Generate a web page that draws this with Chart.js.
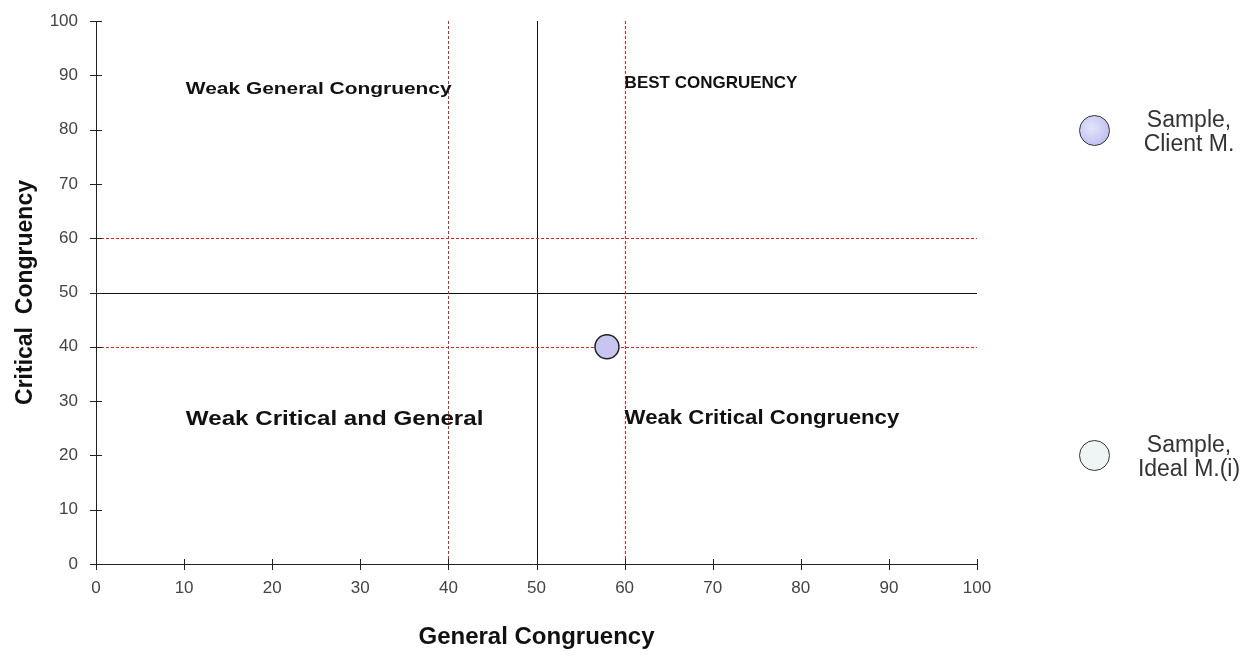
<!DOCTYPE html>
<html>
<head>
<meta charset="utf-8">
<script src="https://cdn.jsdelivr.net/npm/chart.js@4/dist/chart.umd.min.js"></script>
<style>
  body { margin: 0; background: #fff; font-family: Arial, "Liberation Sans", sans-serif; }
  #wrap { position: relative; width: 1256px; height: 656px; }
  .leg { position: absolute; display: flex; align-items: center; }
  .leg .dot { width: 31px; height: 31px; border-radius: 50%; box-sizing: border-box; border: 1.5px solid #333; }
  .leg .txt { position: absolute; left: 110px; width: 0; display: flex; justify-content: center; }
  .leg .txt span { white-space: nowrap; font-size: 23px; color: #333; text-align: center; line-height: 24px; }
</style>
</head>
<body>
<div id="wrap">
  <canvas id="chart" width="1256" height="656"></canvas>
  <div class="leg" style="left:1079px; top:115px;">
    <div class="dot" style="background: radial-gradient(circle at 40% 40%, #e4e4fb, #b4b4f0);"></div>
    <div class="txt"><span>Sample,<br>Client M.</span></div>
  </div>
  <div class="leg" style="left:1079px; top:440px;">
    <div class="dot" style="background:#eef5f4;"></div>
    <div class="txt"><span>Sample,<br>Ideal M.(i)</span></div>
  </div>
</div>
<script>
// data
const clientPoints = [{ x: 58, y: 40 }];
const idealPoints = [];
const tickValues = [0, 10, 20, 30, 40, 50, 60, 70, 80, 90, 100];

// reference lines
const redLinesX = [40, 60];
const redLinesY = [40, 60];
const blackLinesX = [50];
const blackLinesY = [50];

// quadrant labels
const quadrantText = ["Weak General Congruency", "BEST CONGRUENCY", "Weak Critical and General", "Weak Critical Congruency"];
const quadrantX = [10.2, 60, 10.2, 60];
const quadrantY = [87.5, 88.6, 26.6, 26.8];
// font size and horizontal stretch of each label
const quadrantSize = [17, 17, 21, 20];
const quadrantStretch = [1.23, 1.0, 1.15, 1.11];

const linesPlugin = {
  id: "lines",
  beforeDatasetsDraw(chart) {
    const ctx = chart.ctx;
    const xs = chart.scales.x, ys = chart.scales.y;
    const a = chart.chartArea;
    ctx.save();
    ctx.lineWidth = 1;
    ctx.strokeStyle = "#111";
    blackLinesX.forEach(v => {
      const px = Math.round(xs.getPixelForValue(v)) + 0.5;
      ctx.beginPath(); ctx.moveTo(px, a.top); ctx.lineTo(px, a.bottom); ctx.stroke();
    });
    blackLinesY.forEach(v => {
      const py = Math.round(ys.getPixelForValue(v)) + 0.5;
      ctx.beginPath(); ctx.moveTo(a.left, py); ctx.lineTo(a.right, py); ctx.stroke();
    });
    ctx.strokeStyle = "#e02424";
    ctx.setLineDash([3, 2]);
    redLinesX.forEach(v => {
      const px = Math.round(xs.getPixelForValue(v)) + 0.5;
      ctx.beginPath(); ctx.moveTo(px, a.top); ctx.lineTo(px, a.bottom); ctx.stroke();
    });
    redLinesY.forEach(v => {
      const py = Math.round(ys.getPixelForValue(v)) + 0.5;
      ctx.beginPath(); ctx.moveTo(a.left, py); ctx.lineTo(a.right, py); ctx.stroke();
    });
    ctx.setLineDash([]);

    // axis ticks crossing the axis lines
    ctx.strokeStyle = "#222";
    tickValues.forEach(v => {
      const px = Math.round(xs.getPixelForValue(v)) + 0.5;
      ctx.beginPath(); ctx.moveTo(px, a.bottom - 5); ctx.lineTo(px, a.bottom + 6); ctx.stroke();
      const py = Math.round(ys.getPixelForValue(v)) + 0.5;
      ctx.beginPath(); ctx.moveTo(a.left - 6, py); ctx.lineTo(a.left + 6, py); ctx.stroke();
    });
    ctx.beginPath(); ctx.moveTo(a.left + 0.5, a.top); ctx.lineTo(a.left + 0.5, a.bottom); ctx.stroke();
    ctx.beginPath(); ctx.moveTo(a.left - 6, a.bottom + 0.5); ctx.lineTo(a.right, a.bottom + 0.5); ctx.stroke();

    // quadrant labels
    ctx.fillStyle = "#111";
    ctx.textBaseline = "middle";
    ctx.textAlign = "left";
    quadrantText.forEach((t, i) => {
      ctx.save();
      ctx.translate(xs.getPixelForValue(quadrantX[i]), ys.getPixelForValue(quadrantY[i]));
      ctx.scale(quadrantStretch[i], 1);
      ctx.font = "bold " + quadrantSize[i] + "px Arial, 'Liberation Sans'";
      ctx.fillText(t, 0, 0);
      ctx.restore();
    });
    ctx.restore();
  }
};

new Chart(document.getElementById("chart"), {
  type: "scatter",
  data: {
    datasets: [
      {
        label: "Sample, Client M.",
        data: clientPoints,
        pointRadius: 12,
        pointBackgroundColor: "#c6c6f0",
        pointBorderColor: "#222",
        pointBorderWidth: 1.5
      },
      {
        label: "Sample, Ideal M.(i)",
        data: idealPoints,
        pointRadius: 12,
        pointBackgroundColor: "#eef5f4",
        pointBorderColor: "#222",
        pointBorderWidth: 1.5
      }
    ]
  },
  options: {
    responsive: false,
    animation: false,
    layout: { padding: { top: 21, right: 279, left: 0, bottom: 0 } },
    plugins: { legend: { display: false }, tooltip: { enabled: false } },
    scales: {
      x: {
        type: "linear",
        min: 0, max: 100,
        afterFit: s => { s.height = 92; s.paddingLeft = 0; s.paddingRight = 0; },
        afterBuildTicks: s => { s.ticks = tickValues.map(v => ({ value: v })); },
        grid: { display: false, drawTicks: false },
        border: { display: false },
        ticks: { color: "#444", font: { size: 17, family: "Arial" }, padding: 14 },
        title: { display: true, text: "General Congruency", color: "#111", font: { size: 24, weight: "bold", family: "Arial" }, padding: { top: 22 } }
      },
      y: {
        type: "linear",
        min: 0, max: 100,
        afterFit: s => { s.width = 96; s.paddingTop = 0; s.paddingBottom = 0; },
        afterBuildTicks: s => { s.ticks = tickValues.map(v => ({ value: v })); },
        grid: { display: false, drawTicks: false },
        border: { display: false },
        ticks: { color: "#444", font: { size: 17, family: "Arial" }, padding: 18 },
        title: { display: true, text: "Critical  Congruency", color: "#111", font: { size: 23, weight: "bold", family: "Arial" }, padding: { top: 12, bottom: 0 } }
      }
    }
  },
  plugins: [linesPlugin]
});
</script>
</body>
</html>
